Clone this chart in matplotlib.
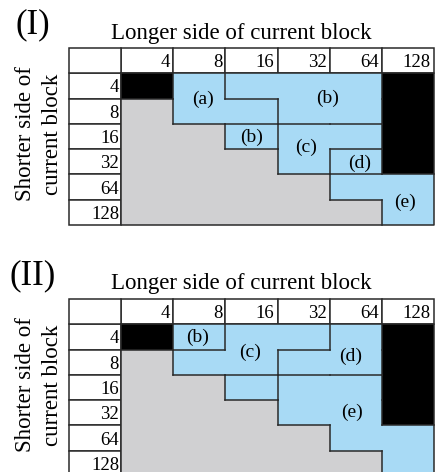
import matplotlib
matplotlib.use("Agg")
import matplotlib.pyplot as plt
from matplotlib.patches import Rectangle

plt.rcParams["font.family"] = ["Liberation Serif", "DejaVu Serif"]

# Block sizes along both axes of the tables
sizes = [4, 8, 16, 32, 64, 128]

# Region of each (shorter side, longer side) cell.
# "K" = not allowed (black), "G" = not applicable (gray), anything else = blue group
regions_I = [
    ["K", "a", "b", "b", "b", "K"],
    ["G", "a", "a", "b", "b", "K"],
    ["G", "G", "b2", "c", "c", "K"],
    ["G", "G", "G", "c", "d", "K"],
    ["G", "G", "G", "G", "e", "e"],
    ["G", "G", "G", "G", "G", "e"],
]
regions_II = [
    ["K", "b", "c", "c", "d", "K"],
    ["G", "c", "c", "d", "d", "K"],
    ["G", "G", "f", "e", "e", "K"],
    ["G", "G", "G", "e", "e", "K"],
    ["G", "G", "G", "G", "e", "e"],
    ["G", "G", "G", "G", "G", "e"],
]
group_labels_I = ["(a)", "(b)", "(b)", "(c)", "(d)", "(e)"]
group_labels_II = ["(b)", "(c)", "(d)", "(e)"]

# where each group label sits (column, row) in table units
label_pos_I = [(1.57, 1.05), (3.95, 1.0), (2.5, 2.52), (3.55, 2.92), (4.58, 3.58), (5.45, 5.1)]
label_pos_II = [(1.46, 0.52), (2.47, 1.12), (4.41, 1.28), (4.43, 3.5)]

BLUE = "#a8daf5"
GRAY = "#d0d0d2"
LINE = "#2a2a2a"
LW = 1.1


def draw_table(ax, regions, labels, label_pos):
    n = len(sizes)
    ax.set_xlim(-1, n)
    ax.set_ylim(n, -1)
    ax.axis("off")

    # header row and row-label column
    for j, s in enumerate(sizes):
        ax.add_patch(Rectangle((j, -1), 1, 1, facecolor="white", edgecolor=LINE, lw=LW, clip_on=False))
        ax.text(j + 0.94, -0.42, str(s), ha="right", va="center", fontsize=13.5)
    for i, s in enumerate(sizes):
        ax.add_patch(Rectangle((-1, i), 1, 1, facecolor="white", edgecolor=LINE, lw=LW, clip_on=False))
        ax.text(-0.04, i + 0.58, str(s), ha="right", va="center", fontsize=13.5)
    ax.add_patch(Rectangle((-1, -1), 1, 1, facecolor="white", edgecolor=LINE, lw=LW, clip_on=False))

    # cell fills
    for i in range(n):
        for j in range(n):
            r = regions[i][j]
            color = {"K": "black", "G": GRAY}.get(r, BLUE)
            ax.add_patch(Rectangle((j, i), 1, 1, facecolor=color, edgecolor="none", clip_on=False))

    # borders between different regions
    for i in range(n):
        for j in range(n):
            if j + 1 < n and regions[i][j] != regions[i][j + 1]:
                ax.plot([j + 1, j + 1], [i, i + 1], color=LINE, lw=LW, solid_capstyle="projecting", clip_on=False)
            if i + 1 < n and regions[i][j] != regions[i + 1][j]:
                ax.plot([j, j + 1], [i + 1, i + 1], color=LINE, lw=LW, solid_capstyle="projecting", clip_on=False)

    # outer frame of the body
    ax.plot([0, n, n, 0, 0], [0, 0, n, n, 0], color=LINE, lw=LW, clip_on=False)

    for text, (x, y) in zip(labels, label_pos):
        ax.text(x, y, text, ha="center", va="center", fontsize=14)


fig = plt.figure(figsize=(4.37, 4.72), dpi=100)
W, H = 437, 472

panels = [
    ("(I)", regions_I, group_labels_I, label_pos_I, 48),
    ("(II)", regions_II, group_labels_II, label_pos_II, 299),
]
for name, regions, labels, pos, top in panels:
    ax = fig.add_axes([69 / W, 1 - (top + 177) / H, 365 / W, 177 / H])
    draw_table(ax, regions, labels, pos)
    fig.text(33 / W, 1 - (top - 23) / H, name, ha="center", va="center", fontsize=25)
    fig.text(241 / W, 1 - (top - 15) / H, "Longer side of current block",
             ha="center", va="center", fontsize=16.5)
    fig.text(39 / W, 1 - (top + 86) / H, "Shorter side of\ncurrent block",
             ha="center", va="center", rotation=90, fontsize=16.5, linespacing=1.32)

fig.savefig("out.png", dpi=100)
